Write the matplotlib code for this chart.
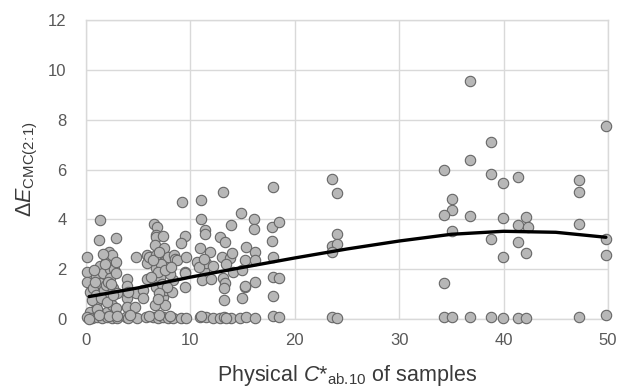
import matplotlib
matplotlib.use("Agg")
import matplotlib.pyplot as plt

plt.rcParams['font.family'] = ['Liberation Sans', 'DejaVu Sans']
plt.rcParams['mathtext.fontset'] = 'custom'
plt.rcParams['mathtext.rm'] = 'Liberation Sans'
plt.rcParams['mathtext.it'] = 'Liberation Sans:italic'
plt.rcParams['mathtext.bf'] = 'Liberation Sans:bold'

# ---- scatter data (physical chroma vs colour difference) ----
chroma = [
    # x 0-3
    0.1, 0.1, 0.1, 0.4, 0.7, 1.0, 1.0, 1.0, 1.3, 1.3, 1.3, 1.2, 1.7, 1.6, 1.9, 1.9, 2.0, 2.2, 2.3, 2.3,
    2.3, 2.5, 2.5, 2.6, 2.7, 2.9, 2.9, 2.9, 2.9, 3.0, 0.4, 0.6, 1.4, 1.8, 2.1, 0.9,
    1.6, 2.4, 0.8, 2.0, 1.1, 2.6,
    # x 3.5-5.5
    3.9, 3.9, 3.9, 3.9, 4.7, 4.8, 4.8, 5.5, 5.5, 4.0,
    # x 5.5-9
    5.8, 5.8, 5.8, 6.0, 6.5, 6.8, 6.7, 6.7, 6.6, 6.7, 6.7, 6.7, 6.6, 7.1, 7.4, 7.4, 7.5, 7.7, 7.7, 7.6,
    7.9, 8.2, 8.3, 8.4, 8.5, 8.7, 7.2, 6.9, 7.3, 7.8, 6.2, 7.0, 8.0,
    6.4, 7.0, 7.6, 8.1, 6.9,
    # x 9-12
    9.2, 9.5, 9.1, 9.6, 9.5, 9.5, 9.5, 10.6, 10.9, 11.0, 11.0, 11.4, 11.4, 11.3, 11.5, 11.1, 11.9, 12.0,
    12.2, 10.8, 11.3,
    # x 12.5-15
    12.8, 13.1, 13.3, 13.0, 13.8, 13.9, 13.1, 13.3, 13.2, 13.2, 14.1, 14.8, 14.9, 14.9, 13.4, 14.0,
    # x 15-19
    15.3, 15.2, 15.2, 16.1, 16.1, 16.2, 16.2, 16.2, 17.8, 17.8, 17.9, 17.9, 17.9, 17.9, 18.5, 18.5, 15.2,
    # x 23-25
    23.6, 24.0, 24.0, 23.6, 24.0, 23.6,
    # x 34-43
    36.8, 38.8, 36.8, 34.3, 38.8, 39.9, 41.4, 35.1, 35.1, 34.3, 36.8, 39.9, 42.1, 41.4, 42.3, 35.1,
    38.8, 41.4, 39.9, 42.1, 34.3,
    # x 47-50
    47.2, 47.2, 47.2, 49.8, 49.8, 49.8,
    # near-zero row
    0.13, 0.54, 1.02, 1.5, 1.97, 2.45, 2.93, 3.82, 4.04, 4.84, 5.79, 6.43, 6.91, 7.39, 7.86, 8.34,
    9.14, 9.61, 10.88, 11.52, 12.16, 12.8, 13.18, 13.91, 14.71, 15.35, 16.14, 17.9, 18.53,
    0.3, 1.2, 2.2, 3.0, 4.2, 6.0, 7.0, 8.0, 11.0, 13.4,
    23.6, 24.0, 34.3, 35.1, 36.8, 38.8, 39.9, 41.4, 42.1, 47.2, 49.8,
]
delta_e = [
    2.47, 1.89, 1.49, 1.10, 1.23, 1.69, 0.96, 0.63, 2.12, 1.43, 3.96, 3.19, 1.16, 1.85, 2.29, 1.35, 0.29, 2.69, 1.99, 1.63,
    0.89, 0.56, 2.55, 1.23, 2.00, 2.29, 1.85, 3.27, 0.43, 1.05, 0.29, 0.75, 0.85, 2.20, 1.50, 1.50,
    2.60, 1.40, 1.95, 0.70, 0.40, 0.95,
    1.59, 1.32, 0.83, 0.49, 0.49, 1.03, 2.47, 1.16, 0.83, 1.10,
    2.56, 2.23, 1.59, 2.50, 3.83, 3.70, 3.36, 3.29, 2.96, 2.56, 2.03, 1.29, 0.56, 1.69, 3.32, 0.89, 2.83, 2.36, 1.16, 0.56,
    2.49, 1.09, 1.56, 2.56, 2.39, 2.36, 2.20, 1.90, 1.40, 1.30, 1.70, 1.05, 1.80,
    2.35, 2.70, 1.95, 2.10, 0.80,
    4.68, 3.32, 3.05, 2.47, 1.89, 1.85, 1.27, 2.29, 2.83, 4.76, 4.00, 3.56, 3.43, 1.96, 2.23, 1.56, 2.69, 1.59,
    2.12, 2.10, 2.40,
    3.29, 5.09, 3.09, 2.47, 2.43, 3.79, 1.63, 1.43, 1.23, 0.76, 1.89, 4.27, 1.96, 0.83, 2.20, 2.65,
    2.89, 2.36, 1.29, 4.03, 3.63, 2.69, 2.36, 1.49, 3.69, 3.12, 2.47, 1.69, 0.92, 5.29, 3.88, 1.63, 1.32,
    5.63, 5.05, 3.42, 2.94, 3.03, 2.67,
    9.56, 7.09, 6.38, 5.99, 5.80, 5.44, 5.69, 4.83, 4.39, 4.17, 4.12, 4.04, 4.09, 3.76, 3.69, 3.52,
    3.23, 3.09, 2.49, 2.63, 1.45,
    5.56, 5.09, 3.83, 7.76, 3.23, 2.56,
    0.08, 0.05, 0.10, 0.04, 0.08, 0.06, 0.03, 0.07, 0.04, 0.05, 0.08, 0.10, 0.04, 0.07, 0.05, 0.06,
    0.05, 0.04, 0.07, 0.10, 0.06, 0.04, 0.09, 0.06, 0.05, 0.07, 0.04, 0.12, 0.09,
    0.02, 0.15, 0.12, 0.14, 0.16, 0.12, 0.15, 0.13, 0.12, 0.03,
    0.07, 0.03, 0.07, 0.07, 0.07, 0.07, 0.03, 0.03, 0.05, 0.07, 0.16,
]

# ---- polynomial trend line values ----
trend_x = [0.3, 5, 10, 15, 20, 25, 30, 35, 40, 45, 49.8]
trend_y = [0.90, 1.25, 1.68, 2.07, 2.45, 2.81, 3.13, 3.40, 3.52, 3.48, 3.28]

x_ticks = [0, 10, 20, 30, 40, 50]
y_ticks = [0, 2, 4, 6, 8, 10, 12]

fig = plt.figure(figsize=(6.18, 3.89), dpi=100)
ax = fig.add_axes([86 / 618, 1 - 319 / 389, (608 - 86) / 618, (319 - 20) / 389])

ax.scatter(chroma, delta_e, s=56, facecolor='#b7b7b7', edgecolor='#666666',
           linewidth=0.8, zorder=3, clip_on=False)
ax.plot(trend_x, trend_y, color='black', linewidth=2.4, zorder=4,
        solid_capstyle='round', solid_joinstyle='round')

ax.set_xlim(0, 50)
ax.set_ylim(0, 12)
ax.set_xticks(x_ticks)
ax.set_yticks(y_ticks)
ax.grid(True, color='#d9d9d9', linewidth=1.0, zorder=0)
ax.set_axisbelow(True)
for sp in ax.spines.values():
    sp.set_color('#d9d9d9')
    sp.set_linewidth(1.0)
ax.tick_params(length=0, labelsize=12, labelcolor='#595959')
ax.tick_params(axis='x', pad=10)
ax.tick_params(axis='y', pad=14)

ax.set_xlabel(r'Physical $\mathit{C}$*$_{\mathrm{ab.\!10}}$ of samples',
              fontsize=15.5, color='#3a3a3a', labelpad=11)
ax.set_ylabel(r'$\Delta\mathit{E}_{\mathrm{CMC(2\!:\!1)}}$', fontsize=15.5,
              color='#3a3a3a', labelpad=6)

fig.savefig('out.png', dpi=100)
